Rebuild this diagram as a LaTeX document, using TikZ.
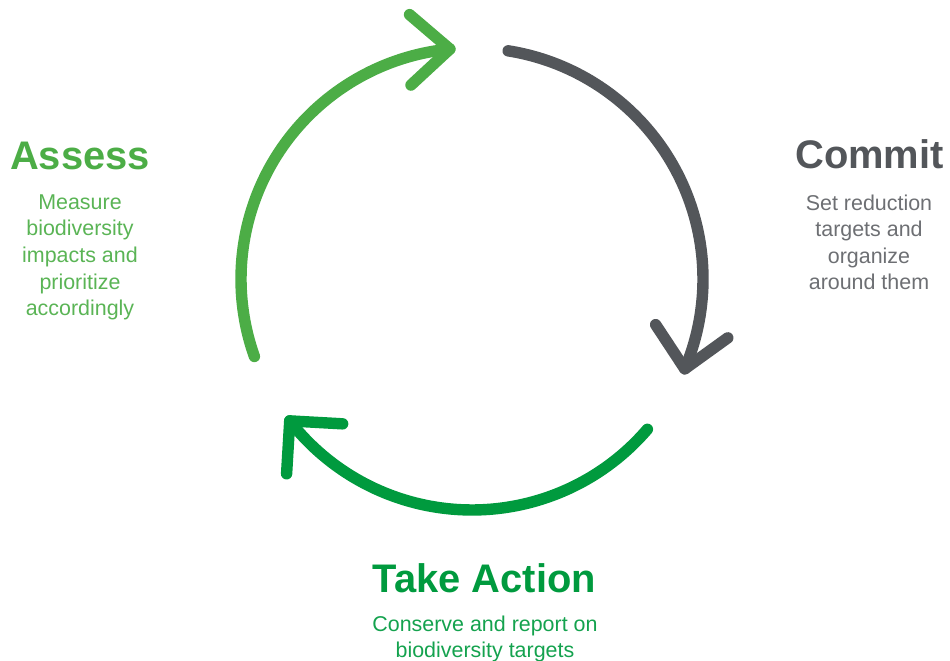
\documentclass[tikz,border=0pt]{standalone}
\usepackage{fontspec}
\setmainfont{Liberation Sans}
\usetikzlibrary{calc}
\definecolor{assessgreen}{RGB}{76,173,70}
\definecolor{actiongreen}{RGB}{0,154,62}
\definecolor{commitgray}{RGB}{83,86,90}
\begin{document}
\begin{tikzpicture}[x=0.02cm,y=0.02cm,
  cycleline/.style={line width=6.5pt, line cap=round, line join=round},
  title/.style={font=\fontsize{22.7}{27}\selectfont\bfseries, anchor=base, inner sep=0pt},
  body/.style={font=\fontsize{12.2}{15.1}\selectfont, align=center, anchor=base, inner sep=0pt}]
\useasboundingbox (0,0) rectangle (950,661);
\coordinate (O) at (472,382);

% Assess: left arc, arrow at the top
\draw[cycleline, assessgreen] (O) ++(199.6:231) coordinate (as)
  arc[start angle=199.6, end angle=95.5, radius=231] coordinate (at);
\path (at) ++(139.5:53) coordinate (a1) (at) ++(222.8:53) coordinate (a2);
\draw[cycleline, assessgreen] (a1) -- (at) -- (a2);

% Commit: right arc, arrow at the lower right
\draw[cycleline, commitgray] (O) ++(81:231) coordinate (cs)
  arc[start angle=81, end angle=-22.9, radius=231] coordinate (ct);
\path (ct) ++(123.4:53) coordinate (c1) (ct) ++(35.8:53) coordinate (c2);
\draw[cycleline, commitgray] (c1) -- (ct) -- (c2);

% Take Action: bottom arc, arrow at the lower left
\draw[cycleline, actiongreen] (O) ++(-40.6:231) coordinate (ts)
  arc[start angle=-40.6, end angle=-142.1, radius=231] coordinate (tt);
\path (tt) ++(-3.2:53) coordinate (t1) (tt) ++(-93.4:53) coordinate (t2);
\draw[cycleline, actiongreen] (t1) -- (tt) -- (t2);

% Labels (body blocks are anchored at the baseline of their last line)
\node[title, text=assessgreen] (assess) at (80,491) {Assess};
\node[body, text=assessgreen!92] (assesstxt) at (80,345.4)
  {Measure\\biodiversity\\impacts and\\prioritize\\accordingly};

\node[title, text=commitgray] (commit) at (869.5,492) {Commit};
\node[body, text=commitgray!85] (committxt) at (869,371)
  {Set reduction\\targets and\\organize\\around them};

\node[title, text=actiongreen] (action) at (484.5,68) {Take Action};
\node[body, text=actiongreen!92] (actiontxt) at (485,3)
  {Conserve and report on\\biodiversity targets};
\end{tikzpicture}
\end{document}
